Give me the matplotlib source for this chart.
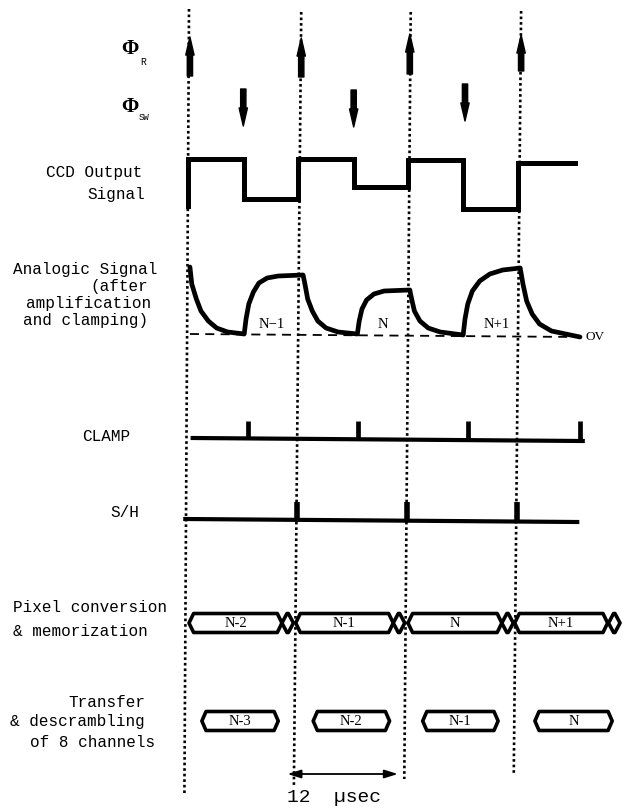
import numpy as np
import matplotlib.pyplot as plt
from matplotlib.patches import Polygon, FancyArrowPatch

# horizontal axis: time in microseconds, vertical axis: rows of the picture (top = 0)
PX_PER_US = 9.2
ORIGIN_PX = 189

# pixel clock edges (dotted lines); the scanned original is slightly skewed
edge_t_top = [0.0, 12.2, 24.1, 36.1]
edge_t_bottom = [-0.5, 11.4, 23.4, 35.3]
edge_y_top = [10, 13, 13, 12]
edge_y_bottom = [794, 787, 780, 776]

# phi_R (up arrows) and phi_SW (down arrows)
phi_r_t = [0.1, 12.2, 24.0, 36.1]
phi_r_from = [77, 78, 75, 72]
phi_r_to = [38, 39, 35, 36]
phi_sw_t = [5.9, 17.9, 30.0]
phi_sw_from = [90, 91, 85]
phi_sw_to = [127, 128, 122]

# CCD output signal (step levels)
ccd_t = [-0.1, 6.0, 11.9, 17.9, 23.8, 29.8, 35.8, 42.0]
ccd_level = [160, 200, 160, 188, 161, 210, 164]
ccd_start = 207

# analogic signal after amplification and clamping
analog_t = [0.1, 0.3, 0.8, 1.3, 2.1, 3.0, 4.2, 6.0,
            6.2, 6.5, 7.0, 7.6, 8.5, 9.7, 12.4,
            12.6, 12.9, 13.4, 14.0, 14.9, 16.2, 18.3,
            18.5, 18.8, 19.3, 20.1, 21.2, 24.0,
            24.2, 24.5, 25.1, 26.0, 27.3, 29.8,
            30.0, 30.3, 30.8, 31.6, 32.7, 34.1, 36.0,
            36.3, 36.7, 37.3, 38.1, 39.4, 42.5]
analog_y = [268, 285, 300, 312, 322, 329, 333, 335,
            320, 305, 293, 284, 279, 277, 276,
            285, 300, 312, 322, 329, 333, 335,
            322, 310, 301, 295, 292, 291,
            300, 312, 322, 329, 333, 336,
            320, 305, 292, 282, 275, 271, 269,
            285, 302, 315, 325, 332, 338]
zero_t = [0.1, 42.4]
zero_y = [335, 338]
analog_labels = ["N\u22121", "N", "N+1"]
analog_label_t = [9.0, 21.1, 33.4]

# CLAMP and S/H pulses
clamp_t = [0.4, 42.8]
clamp_y = [439, 442]
clamp_pulse_t = [6.4, 18.4, 30.3, 42.5]
sh_t = [-0.4, 42.2]
sh_y = [520, 523]
sh_pulse_t = [11.7, 23.7, 35.7]

# pixel conversion & memorization
conv_start = [0.0, 11.6, 23.8, 35.4]
conv_end = [10.1, 22.2, 34.0, 45.5]
conv_labels = ["N-2", "N-1", "N", "N+1"]
xing_start = [10.1, 22.2, 34.0, 45.6]

# transfer & descrambling
xfer_start = [1.4, 13.5, 25.4, 37.6]
xfer_end = [9.7, 21.8, 33.6, 46.0]
xfer_labels = ["N-3", "N-2", "N-1", "N"]

# 12 usec scale arrow
scale_t = [10.7, 22.7]


def tx(px):
    return (px - ORIGIN_PX) / PX_PER_US


def bus_box(ax, t0, t1, yc, h, bevel, lw=2.6):
    pts = [(t0, yc), (t0 + bevel, yc - h / 2), (t1 - bevel, yc - h / 2),
           (t1, yc), (t1 - bevel, yc + h / 2), (t0 + bevel, yc + h / 2)]
    ax.add_patch(Polygon(pts, closed=True, fc="white", ec="black", lw=lw,
                         joinstyle="round", zorder=3))


fig = plt.figure(figsize=(6.23, 8.12), dpi=100)
ax = fig.add_axes([0, 0, 1, 1])
ax.set_xlim(tx(0), tx(623))
ax.set_ylim(812, 0)
ax.axis("off")

mono = "Liberation Mono"
lab = dict(family=mono, fontsize=11.5, va="center", ha="left", color="black")

# dotted clock edges
for t0, t1, y0, y1 in zip(edge_t_top, edge_t_bottom, edge_y_top, edge_y_bottom):
    ax.plot([t0, t1], [y0, y1], color="black", lw=1.9, linestyle=(0, (1, 1.1)), zorder=1)

# phi arrows
arrow_style = "simple,head_width=0.6,head_length=1.3,tail_width=0.38"
for t, y0, y1 in zip(phi_r_t, phi_r_from, phi_r_to):
    ax.add_patch(FancyArrowPatch((t, y0), (t, y1), arrowstyle=arrow_style,
                                 mutation_scale=10, fc="black", ec="black",
                                 shrinkA=0, shrinkB=0, zorder=4))
for t, y0, y1 in zip(phi_sw_t, phi_sw_from, phi_sw_to):
    ax.add_patch(FancyArrowPatch((t, y0), (t, y1), arrowstyle=arrow_style,
                                 mutation_scale=10, fc="black", ec="black",
                                 shrinkA=0, shrinkB=0, zorder=4))
ax.text(tx(121), 49, "\u03a6", family="Liberation Serif", fontsize=15,
        fontweight="bold", va="center", ha="left")
ax.text(tx(140), 62, "R", family=mono, fontsize=7, va="center", ha="left")
ax.text(tx(121), 107, "\u03a6", family="Liberation Serif", fontsize=15,
        fontweight="bold", va="center", ha="left")
ax.text(tx(139), 117, "SW", family=mono, fontsize=6.5, va="center", ha="left")

# CCD output
xs = [ccd_t[0]]
ys = [ccd_start]
for i, lvl in enumerate(ccd_level):
    xs += [ccd_t[i], ccd_t[i + 1]]
    ys += [lvl, lvl]
ax.plot(xs, ys, color="black", lw=3.6, solid_joinstyle="miter", zorder=2)
ax.text(tx(46), 172, "CCD Output", **lab)
ax.text(tx(87), 195, "Signal", **lab)

# analogic signal
ax.plot(zero_t, zero_y, color="black", lw=1.3, linestyle=(0, (5, 3.5)), zorder=2)
ax.plot(analog_t, analog_y, color="black", lw=3.4, solid_joinstyle="round",
        solid_capstyle="round", zorder=3)
for s, t in zip(analog_labels, analog_label_t):
    ax.text(t, 325, s, family="Liberation Serif", fontsize=10.5, ha="center", va="center")
ax.text(tx(585), 337, "OV", family="Liberation Serif", fontsize=9.5, ha="left", va="center")
ax.text(tx(13), 270, "Analogic Signal", **lab)
ax.text(tx(90), 287, "(after", **lab)
ax.text(tx(26), 304, "amplification", **lab)
ax.text(tx(23), 321, "and clamping)", **lab)

# CLAMP
ax.plot(clamp_t, clamp_y, color="black", lw=3.0, zorder=2)
for t in clamp_pulse_t:
    yb = np.interp(t, clamp_t, clamp_y)
    ax.plot([t, t], [yb, 422], color="black", lw=3.4, solid_capstyle="butt", zorder=2)
ax.text(tx(82), 437, "CLAMP", **lab)

# S/H
ax.plot(sh_t, sh_y, color="black", lw=3.0, zorder=2)
for t in sh_pulse_t:
    yb = np.interp(t, sh_t, sh_y)
    ax.plot([t, t], [yb, 503], color="black", lw=4.0, solid_capstyle="butt", zorder=2)
ax.text(tx(110), 513, "S/H", **lab)

# pixel conversion & memorization
for t0, t1, s in zip(conv_start, conv_end, conv_labels):
    bus_box(ax, t0, t1, 624, 19, 0.5)
    ax.text((t0 + t1) / 2, 624, s, family="Liberation Serif", fontsize=10.5,
            ha="center", va="center", zorder=4)
for t0 in xing_start:
    bus_box(ax, t0, t0 + 1.25, 624, 19, 0.55)
ax.text(tx(13), 608, "Pixel conversion", **lab)
ax.text(tx(13), 632, "& memorization", **lab)

# transfer & descrambling
for t0, t1, s in zip(xfer_start, xfer_end, xfer_labels):
    bus_box(ax, t0, t1, 722, 19, 0.45)
    ax.text((t0 + t1) / 2, 722, s, family="Liberation Serif", fontsize=10.5,
            ha="center", va="center", zorder=4)
ax.text(tx(68), 703, "Transfer", **lab)
ax.text(tx(10), 722, "& descrambling", **lab)
ax.text(tx(30), 743, "of 8 channels", **lab)

# 12 usec scale
ax.add_patch(FancyArrowPatch((scale_t[0], 775), (scale_t[1], 775),
                             arrowstyle="<|-|>,head_width=0.25,head_length=0.8",
                             mutation_scale=10, fc="black", ec="black", lw=1.3,
                             shrinkA=0, shrinkB=0))
ax.text(scale_t[0], 798, "12  \u00b5sec", family=mono, fontsize=14, ha="left", va="center")

fig.savefig("out.png", dpi=100)
